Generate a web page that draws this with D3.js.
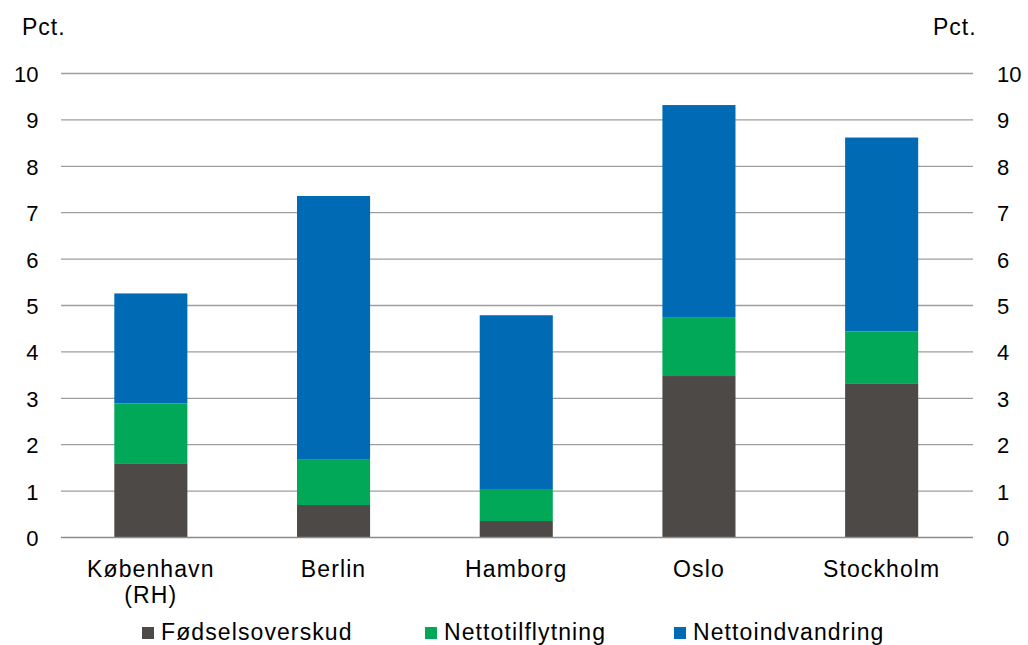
<!DOCTYPE html>
<html><head><meta charset="utf-8">
<script src="https://cdn.jsdelivr.net/npm/d3@7"></script>
<style>body{margin:0;background:#fff}svg{display:block;font-family:"Liberation Sans",Arial,sans-serif}</style>
</head><body>
<svg id="c" width="1028" height="645"></svg>
<script>
const categories = ["København\n(RH)", "Berlin", "Hamborg", "Oslo", "Stockholm"];
const seriesNames = ["Fødselsoverskud", "Nettotilflytning", "Nettoindvandring"];
const fodselsoverskud = [1.60, 0.70, 0.355, 3.48, 3.31];
const nettotilflytning = [1.29, 0.99, 0.69, 1.27, 1.13];
const nettoindvandring = [2.37, 5.67, 3.745, 4.57, 4.18];
const yTicks = [0,1,2,3,4,5,6,7,8,9,10];
const colors = ["#4d4946", "#00a857", "#006bb4"];

const svg = d3.select("#c");
const x = d3.scaleBand().domain(categories).range([59.5, 973]).paddingInner(0.6).paddingOuter(0.3);
const y = d3.scaleLinear().domain([0, 10]).range([537.5, 73.5]);

const rows = categories.map((c, i) => ({cat: c, a: fodselsoverskud[i], b: nettotilflytning[i], c2: nettoindvandring[i]}));
const stack = d3.stack().keys(["a","b","c2"])(rows);

// gridlines
svg.append("g").selectAll("line").data(yTicks.filter(t => t > 0)).join("line")
  .attr("x1", 61).attr("x2", 973).attr("y1", d => y(d)).attr("y2", d => y(d))
  .attr("stroke", "#9e9e9e").attr("stroke-width", 1.3);

// bars
svg.append("g").selectAll("g").data(stack).join("g").attr("fill", (d, i) => colors[i])
  .selectAll("rect").data(d => d).join("rect")
  .attr("x", d => x(d.data.cat)).attr("width", x.bandwidth())
  .attr("y", d => y(d[1])).attr("height", d => y(d[0]) - y(d[1]));

// baseline
svg.append("line").attr("x1", 61).attr("x2", 973).attr("y1", y(0)).attr("y2", y(0))
  .attr("stroke", "#8c8c8c").attr("stroke-width", 1.6);

// axes labels
const leftAxis = d3.axisLeft(y).tickValues(yTicks).tickSize(0).tickPadding(0).tickFormat(d3.format("d"));
const gl = svg.append("g").attr("transform", "translate(38.5,0)").call(leftAxis);
gl.select(".domain").remove();
gl.selectAll("text").attr("font-size", 22).attr("fill", "#000").attr("font-family", "Liberation Sans, Arial, sans-serif").attr("dy", "0.36em");

const rightAxis = d3.axisRight(y).tickValues(yTicks).tickSize(0).tickPadding(0).tickFormat(d3.format("d"));
const gr = svg.append("g").attr("transform", "translate(997,0)").call(rightAxis);
gr.select(".domain").remove();
gr.selectAll("text").attr("font-size", 22).attr("fill", "#000").attr("font-family", "Liberation Sans, Arial, sans-serif").attr("dy", "0.36em");

svg.append("text").attr("x", 22).attr("y", 35).attr("font-size", 23).attr("letter-spacing", 1).text("Pct.");
svg.append("text").attr("x", 933).attr("y", 35).attr("font-size", 23).attr("letter-spacing", 1).text("Pct.");

// category labels
const cl = svg.append("g").selectAll("text").data(categories).join("text")
  .attr("x", d => x(d) + x.bandwidth() / 2).attr("y", 577)
  .attr("text-anchor", "middle").attr("font-size", 23).attr("letter-spacing", 1.1);
cl.each(function(d) {
  const parts = d.split("\n");
  const t = d3.select(this);
  parts.forEach((p, i) => t.append("tspan").attr("x", x(d) + x.bandwidth() / 2).attr("dy", i === 0 ? 0 : 26).text(p));
});

// legend
const legX = [142, 425, 674];
const lg = svg.append("g").selectAll("g").data(seriesNames).join("g")
  .attr("transform", (d, i) => `translate(${legX[i]},0)`);
lg.append("rect").attr("x", 0).attr("y", 627).attr("width", 12).attr("height", 12).attr("fill", (d, i) => colors[i]);
lg.append("text").attr("x", 19).attr("y", 640).attr("font-size", 23).attr("letter-spacing", 1.1).text(d => d);
</script>
</body></html>
